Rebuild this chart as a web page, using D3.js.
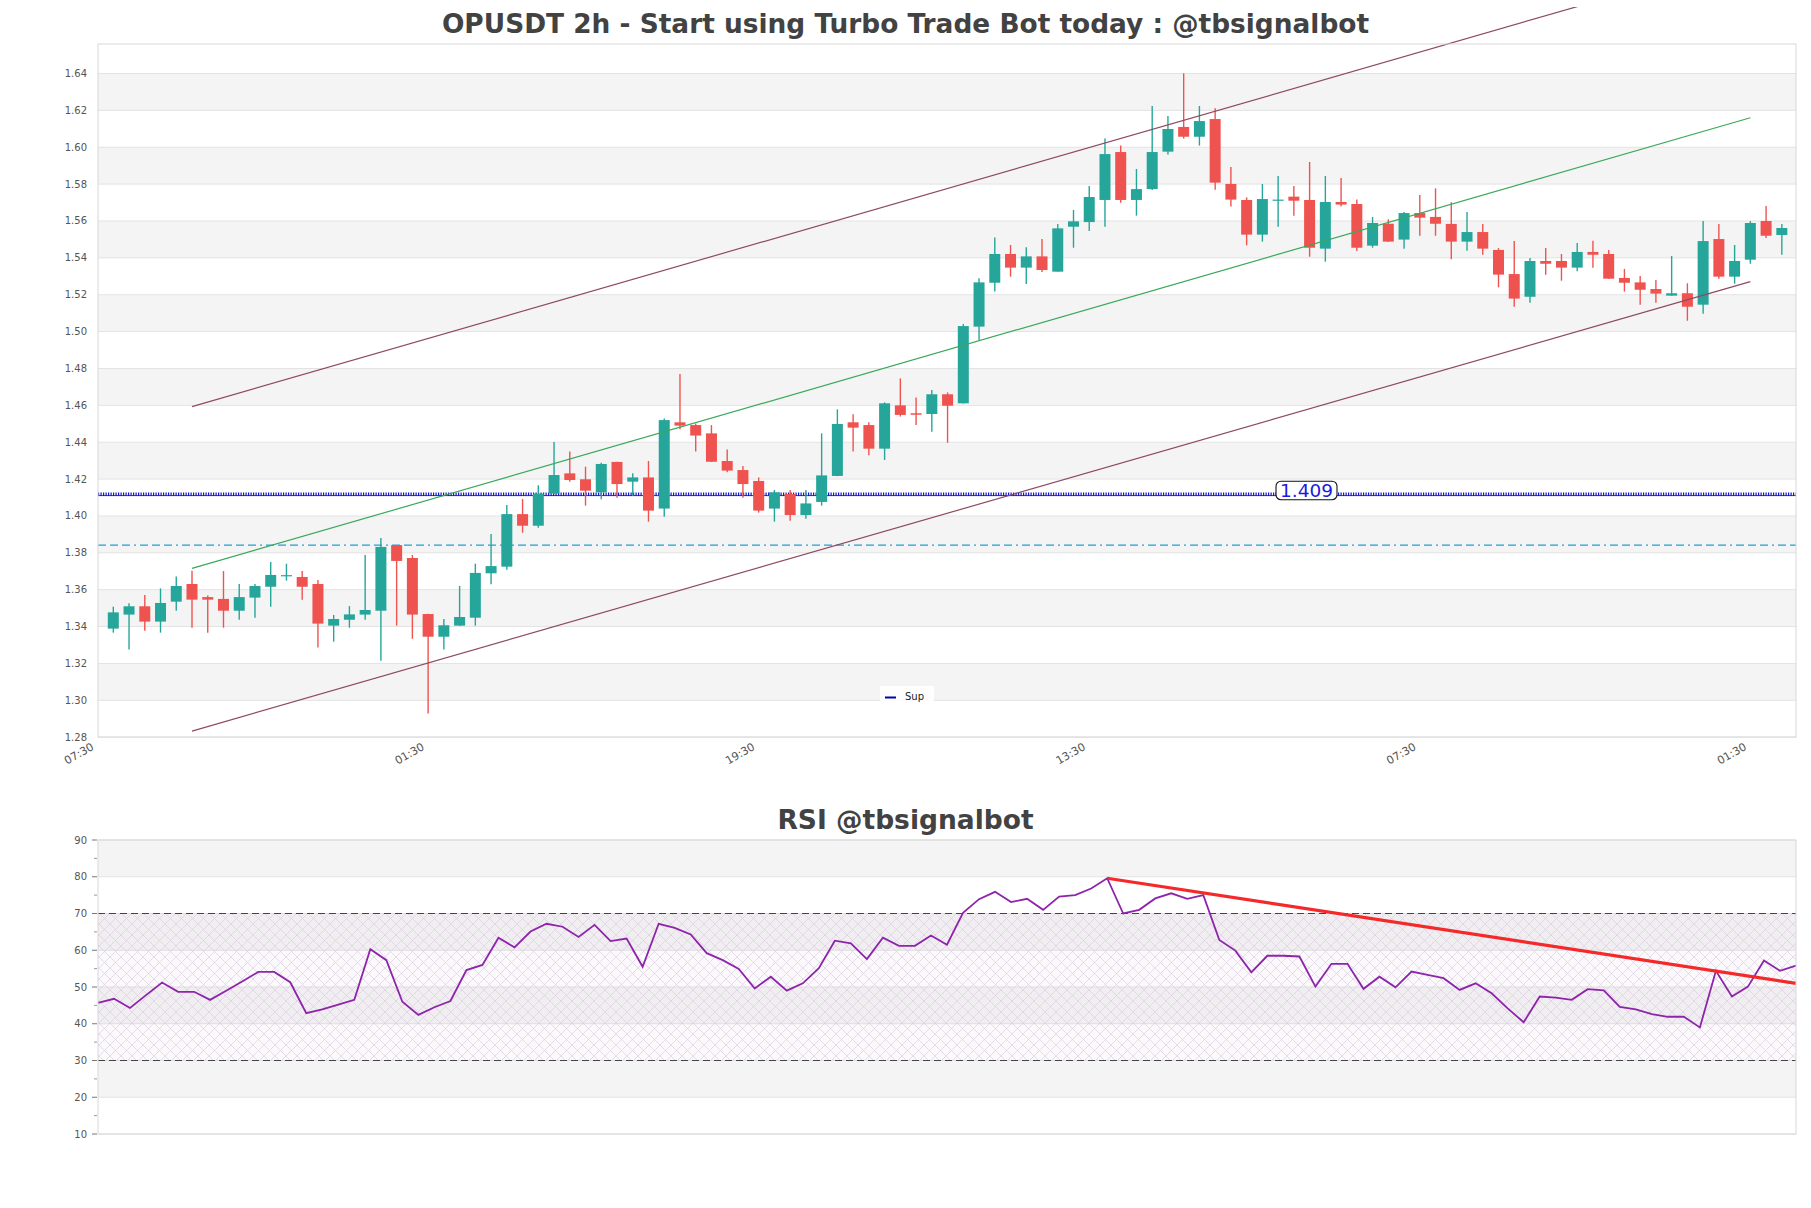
<!DOCTYPE html>
<html>
<head>
<meta charset="utf-8">
<script src="https://cdn.jsdelivr.net/npm/d3@7"></script>
<style>
  body { margin: 0; background: #fff; }
  text { font-family: "DejaVu Sans", sans-serif; }
</style>
</head>
<body>
<svg id="chart"></svg>
<script>
// ---- data ----
const opens = [1.3389,1.3465,1.3510,1.3427,1.3535,1.3631,1.3560,1.3550,1.3486,1.3557,1.3616,1.3677,1.3669,1.3631,1.3405,1.3437,1.3465,1.3486,1.3842,1.3772,
  1.3468,1.3345,1.3405,1.3448,1.3689,1.3725,1.4010,1.3947,1.4121,1.4231,1.4199,1.4128,1.4293,1.4186,1.4209,1.4040,1.4508,1.4493,1.4448,1.4298,
  1.4249,1.4190,1.4040,1.4119,1.4005,1.4076,1.4217,1.4508,1.4493,1.4365,1.4600,1.4557,1.4553,1.4660,1.4611,1.5027,1.5265,1.5421,1.5347,1.5408,
  1.5325,1.5569,1.5594,1.5714,1.5974,1.5714,1.5773,1.5976,1.6110,1.6057,1.6153,1.5801,1.5714,1.5526,1.5710,1.5732,1.5714,1.5450,1.5703,1.5692,
  1.5466,1.5585,1.5499,1.5643,1.5622,1.5584,1.5488,1.5540,1.5443,1.5312,1.5189,1.5383,1.5383,1.5347,1.5432,1.5421,1.5291,1.5267,1.5231,1.5195,
  1.5208,1.5146,1.5502,1.5298,1.5390,1.5600,1.5524];
const highs = [1.3508,1.3526,1.3571,1.3607,1.3671,1.3703,1.3569,1.3701,1.3631,1.3631,1.3750,1.3741,1.3701,1.3652,1.3463,1.3511,1.3788,1.3880,1.3843,1.3788,
  1.3469,1.3441,1.3620,1.3741,1.3902,1.4059,1.4092,1.4166,1.4401,1.4349,1.4267,1.4289,1.4294,1.4231,1.4298,1.4529,1.4770,1.4502,1.4493,1.4361,
  1.4271,1.4209,1.4141,1.4141,1.4141,1.4448,1.4578,1.4551,1.4508,1.4616,1.4746,1.4642,1.4683,1.4670,1.5041,1.5289,1.5511,1.5470,1.5457,1.5502,
  1.5584,1.5660,1.5790,1.6048,1.6010,1.5882,1.6224,1.6169,1.6401,1.6224,1.6211,1.5893,1.5728,1.5801,1.5844,1.5790,1.5920,1.5844,1.5833,1.5717,
  1.5622,1.5609,1.5649,1.5741,1.5777,1.5701,1.5649,1.5584,1.5453,1.5491,1.5399,1.5453,1.5421,1.5480,1.5493,1.5443,1.5340,1.5302,1.5280,1.5410,
  1.5262,1.5600,1.5584,1.5470,1.5600,1.5681,1.5584];
const lows = [1.3367,1.3276,1.3378,1.3367,1.3486,1.3394,1.3367,1.3394,1.3437,1.3448,1.3508,1.3649,1.3546,1.3287,1.3318,1.3394,1.3437,1.3215,1.3405,1.3334,
  1.2929,1.3276,1.3404,1.3405,1.3629,1.3708,1.3909,1.3936,1.4120,1.4186,1.4056,1.4090,1.4099,1.4108,1.3969,1.3996,1.4470,1.4349,1.4293,1.4237,
  1.4099,1.4018,1.3969,1.3974,1.3985,1.4056,1.4216,1.4349,1.4329,1.4304,1.4539,1.4493,1.4457,1.4397,1.4610,1.4954,1.5217,1.5298,1.5258,1.5323,
  1.5324,1.5455,1.5546,1.5569,1.5699,1.5629,1.5768,1.5960,1.6047,1.6009,1.5770,1.5678,1.5468,1.5488,1.5569,1.5629,1.5406,1.5379,1.5678,1.5437,
  1.5455,1.5487,1.5450,1.5520,1.5520,1.5392,1.5439,1.5417,1.5240,1.5135,1.5157,1.5309,1.5276,1.5327,1.5347,1.5286,1.5217,1.5146,1.5157,1.5194,
  1.5059,1.5097,1.5287,1.5260,1.5368,1.5508,1.5417];
const closes = [1.3477,1.3510,1.3427,1.3528,1.3620,1.3546,1.3546,1.3486,1.3560,1.3620,1.3680,1.3679,1.3616,1.3416,1.3441,1.3466,1.3490,1.3832,1.3756,1.3465,
  1.3345,1.3407,1.3452,1.3691,1.3728,1.4010,1.3947,1.4121,1.4222,1.4195,1.4137,1.4282,1.4173,1.4209,1.4029,1.4520,1.4490,1.4436,1.4294,1.4246,
  1.4173,1.4029,1.4128,1.4005,1.4068,1.4220,1.4499,1.4479,1.4365,1.4611,1.4548,1.4549,1.4660,1.4598,1.5030,1.5267,1.5421,1.5347,1.5408,1.5334,
  1.5560,1.5598,1.5730,1.5963,1.5714,1.5773,1.5974,1.6099,1.6057,1.6142,1.5808,1.5716,1.5526,1.5719,1.5716,1.5710,1.5455,1.5703,1.5689,1.5455,
  1.5589,1.5488,1.5643,1.5618,1.5585,1.5488,1.5540,1.5450,1.5309,1.5179,1.5383,1.5368,1.5347,1.5432,1.5417,1.5287,1.5265,1.5227,1.5206,1.5208,
  1.5135,1.5491,1.5298,1.5383,1.5589,1.5520,1.5562];
const rsi = [45.7,46.8,44.3,47.8,51.2,48.7,48.7,46.5,49.0,51.5,54.1,54.1,51.3,42.9,43.9,45.2,46.5,60.3,57.3,46.0,
  42.4,44.5,46.2,54.6,56.0,63.4,60.8,65.1,67.2,66.4,63.6,66.9,62.5,63.2,55.5,67.2,66.1,64.3,59.2,57.3,
  54.9,49.6,52.8,49.0,51.0,55.1,62.6,61.9,57.6,63.4,61.2,61.2,64.0,61.5,70.2,73.9,75.9,73.1,74.0,71.0,
  74.6,75.0,76.8,79.6,70.0,71.0,74.1,75.5,74.0,75.0,62.8,59.9,54.0,58.5,58.5,58.3,50.1,56.3,56.3,49.5,
  52.8,49.9,54.2,53.3,52.4,49.2,51.0,48.3,44.2,40.4,47.4,47.1,46.5,49.4,49.1,44.6,43.9,42.6,41.9,41.9,
  39.0,54.4,47.4,50.1,57.2,54.4,55.8];

const tickIndex = [-1, 20, 41, 62, 83, 104];
const tickLabels = ["07:30", "01:30", "19:30", "13:30", "07:30", "01:30"];
const priceTicks = d3.range(128, 166, 2).map(d => d / 100);
const rsiTicks = d3.range(10, 100, 10);
const rsiMinor = d3.range(15, 90, 10);

// channel: candle index where it starts/ends and the level of each line there
const channelIdx = [5, 104];
const channelUpper = [1.4593, 1.7034];
const channelMid = [1.3716, 1.6160];
const channelLower = [1.2833, 1.5271];
const supLevel = 1.4118;
const supLabel = "1.409";
const dashLevel = 1.3842;
const rsiBands = [30, 70];
const trendIdx = [63, 106];
const trendVal = [79.6, 51.0];

// ---- layout ----
const W = 1811, H = 1208;
const up = "#26a69a", down = "#ef5350", band = "#f4f4f4", grid = "#e3e3e3", frame = "#d8d8d8", lab = "#555";
const svg = d3.select("#chart").attr("width", W).attr("height", H);
const pm = {left: 98, right: 1796, top: 44, bottom: 737};
const rm = {left: 98, right: 1796, top: 840, bottom: 1134};

const x = d3.scaleLinear().domain([-0.972, 106.9]).range([pm.left, pm.right]);
const y = d3.scaleLinear().domain([1.2801, 1.656]).range([pm.bottom, pm.top]);
const xr = d3.scaleLinear().domain([0, rsi.length - 1]).range([rm.left, rm.right]);
const yr = d3.scaleLinear().domain([10, 90]).range([rm.bottom, rm.top]);

const defs = svg.append("defs");
defs.append("clipPath").attr("id", "fig").append("rect").attr("x", 0).attr("y", 7).attr("width", W).attr("height", H);
const pat = defs.append("pattern").attr("id", "hatch").attr("patternUnits", "userSpaceOnUse")
  .attr("width", 11).attr("height", 11);
pat.append("path").attr("d", "M0,0L11,11M11,0L0,11").attr("stroke", "#d6c8de").attr("stroke-width", 0.6);

// ---- price panel ----
const g = svg.append("g");
priceTicks.forEach(v => {
  if ((Math.round(v * 100) - 130) % 4 === 0 && v < 1.635) {
    g.append("rect").attr("x", pm.left).attr("width", pm.right - pm.left)
      .attr("y", y(v + 0.02)).attr("height", y(v) - y(v + 0.02)).attr("fill", band);
  }
});
g.selectAll("line.grid").data(priceTicks).join("line").attr("class", "grid")
  .attr("x1", pm.left).attr("x2", pm.right).attr("y1", d => y(d)).attr("y2", d => y(d))
  .attr("stroke", grid).attr("stroke-width", 1);

g.selectAll("text.ylab").data(priceTicks).join("text").attr("class", "ylab")
  .attr("x", 87).attr("y", d => y(d) + 3.5).attr("text-anchor", "end")
  .attr("font-size", 10).attr("fill", lab).text(d => d3.format(".2f")(d));

g.selectAll("text.xlab").data(tickIndex).join("text").attr("class", "xlab")
  .attr("transform", d => `translate(${x(d) - 3},${pm.bottom + 12}) rotate(-30)`)
  .attr("text-anchor", "end").attr("font-size", 11).attr("fill", lab)
  .text((d, i) => tickLabels[i]);

// horizontal levels
g.append("line").attr("x1", pm.left).attr("x2", pm.right).attr("y1", y(dashLevel)).attr("y2", y(dashLevel))
  .attr("stroke", "#1f9fd8").attr("stroke-width", 1.3).attr("stroke-dasharray", "8 4 8 4 8 4 2 4");
g.append("line").attr("x1", pm.left).attr("x2", pm.right).attr("y1", y(supLevel) + 1.4).attr("y2", y(supLevel) + 1.4)
  .attr("stroke", "#1414d2").attr("stroke-width", 0.9);
g.append("line").attr("x1", pm.left).attr("x2", pm.right).attr("y1", y(supLevel)).attr("y2", y(supLevel))
  .attr("stroke", "#1414d2").attr("stroke-width", 3.4).attr("stroke-dasharray", "1.2 1.3");

// candles
const idx = d3.range(opens.length);
g.selectAll("line.wick").data(idx).join("line").attr("class", "wick")
  .attr("x1", i => x(i)).attr("x2", i => x(i)).attr("y1", i => y(highs[i])).attr("y2", i => y(lows[i]))
  .attr("stroke", i => closes[i] >= opens[i] ? up : down).attr("stroke-width", 1.4);
g.selectAll("rect.body").data(idx).join("rect").attr("class", "body")
  .attr("x", i => x(i) - 5.5).attr("width", 11)
  .attr("y", i => y(Math.max(opens[i], closes[i])))
  .attr("height", i => Math.max(1.2, Math.abs(y(opens[i]) - y(closes[i]))))
  .attr("fill", i => closes[i] >= opens[i] ? up : down);

// channel lines (upper one runs past the axes, as in the original)
const seg = (vals, col) => g.append("line")
  .attr("x1", x(channelIdx[0])).attr("y1", y(vals[0])).attr("x2", x(channelIdx[1])).attr("y2", y(vals[1]))
  .attr("stroke", col).attr("stroke-width", 1.2).attr("clip-path", "url(#fig)");
seg(channelUpper, "#8e4a62");
seg(channelMid, "#3aa85a");
seg(channelLower, "#8e4a62");

// level label
const lx = 1306.5, ly = y(supLevel);
g.append("rect").attr("x", lx - 30.5).attr("y", ly - 13).attr("width", 61).attr("height", 18.5).attr("rx", 5)
  .attr("fill", "#fff").attr("stroke", "#111").attr("stroke-width", 1.1);
g.append("text").attr("x", lx).attr("y", ly + 3).attr("text-anchor", "middle").attr("font-size", 18.5)
  .attr("fill", "#1a1ae0").text(supLabel);

// legend
g.append("rect").attr("x", 880).attr("y", 686).attr("width", 54).attr("height", 20).attr("fill", "#fff").attr("opacity", 0.85);
g.append("line").attr("x1", 885).attr("x2", 896).attr("y1", 697.5).attr("y2", 697.5).attr("stroke", "#0000b0").attr("stroke-width", 2);
g.append("text").attr("x", 905).attr("y", 700).attr("font-size", 10).attr("fill", "#222").text("Sup");

g.append("rect").attr("x", pm.left).attr("y", pm.top).attr("width", pm.right - pm.left).attr("height", pm.bottom - pm.top)
  .attr("fill", "none").attr("stroke", frame);

svg.append("text").attr("x", W / 2).attr("y", 32.5).attr("text-anchor", "middle")
  .attr("font-size", 26.4).attr("font-weight", "bold").attr("fill", "#424242")
  .text("OPUSDT 2h - Start using Turbo Trade Bot today : @tbsignalbot");

// ---- RSI panel ----
const r = svg.append("g");
[20, 40, 60, 80].forEach(v => {
  r.append("rect").attr("x", rm.left).attr("width", rm.right - rm.left)
    .attr("y", yr(v + 10)).attr("height", yr(v) - yr(v + 10)).attr("fill", band);
});
r.selectAll("line.grid").data(rsiTicks).join("line").attr("class", "grid")
  .attr("x1", rm.left).attr("x2", rm.right).attr("y1", d => yr(d)).attr("y2", d => yr(d))
  .attr("stroke", grid);
r.append("rect").attr("x", rm.left).attr("width", rm.right - rm.left)
  .attr("y", yr(rsiBands[1])).attr("height", yr(rsiBands[0]) - yr(rsiBands[1]))
  .attr("fill", "rgba(150,110,180,0.04)");
r.append("rect").attr("x", rm.left).attr("width", rm.right - rm.left)
  .attr("y", yr(rsiBands[1])).attr("height", yr(rsiBands[0]) - yr(rsiBands[1]))
  .attr("fill", "url(#hatch)");
rsiBands.forEach(v => {
  r.append("line").attr("x1", rm.left).attr("x2", rm.right).attr("y1", yr(v)).attr("y2", yr(v))
    .attr("stroke", "#444").attr("stroke-width", 1.2).attr("stroke-dasharray", "7 4");
});

r.selectAll("line.tk").data(rsiTicks).join("line").attr("class", "tk")
  .attr("x1", rm.left - 6).attr("x2", rm.left - 1).attr("y1", d => yr(d)).attr("y2", d => yr(d))
  .attr("stroke", "#777");
r.selectAll("line.mtk").data(rsiMinor).join("line").attr("class", "mtk")
  .attr("x1", rm.left - 4).attr("x2", rm.left - 1).attr("y1", d => yr(d)).attr("y2", d => yr(d))
  .attr("stroke", "#999");
r.selectAll("text.ylab").data(rsiTicks).join("text").attr("class", "ylab")
  .attr("x", 87).attr("y", d => yr(d) + 3.5).attr("text-anchor", "end")
  .attr("font-size", 10).attr("fill", lab).text(d => d);

r.append("path").datum(rsi)
  .attr("d", d3.line().x((d, i) => xr(i)).y(d => yr(d)))
  .attr("fill", "none").attr("stroke", "#8e24aa").attr("stroke-width", 1.8);

r.append("line").attr("x1", xr(trendIdx[0])).attr("y1", yr(trendVal[0]))
  .attr("x2", xr(trendIdx[1])).attr("y2", yr(trendVal[1]))
  .attr("stroke", "#f42a2a").attr("stroke-width", 3.2);

r.append("rect").attr("x", rm.left).attr("y", rm.top).attr("width", rm.right - rm.left).attr("height", rm.bottom - rm.top)
  .attr("fill", "none").attr("stroke", frame);

svg.append("text").attr("x", W / 2).attr("y", 829).attr("text-anchor", "middle")
  .attr("font-size", 26.5).attr("font-weight", "bold").attr("fill", "#424242")
  .text("RSI @tbsignalbot");
</script>
</body>
</html>
